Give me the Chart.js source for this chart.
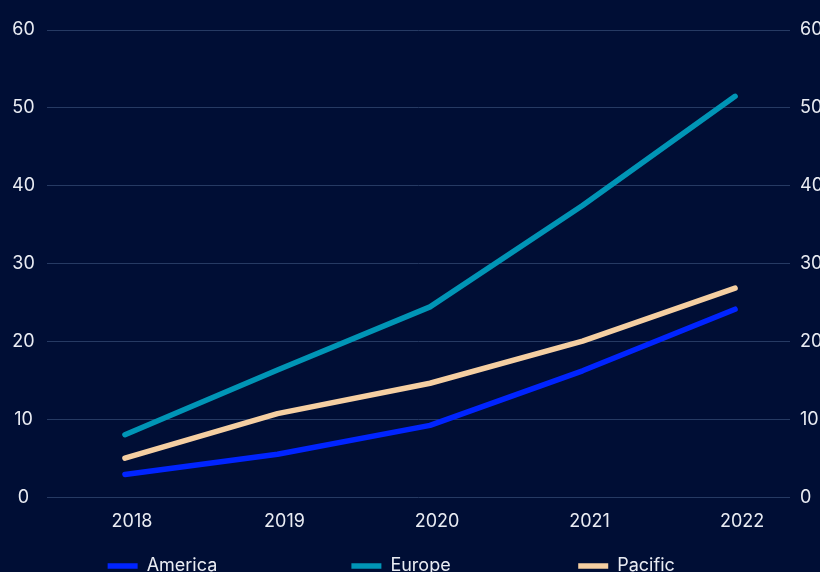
<!DOCTYPE html>
<html>
<head>
<meta charset="utf-8">
<script src="https://cdn.jsdelivr.net/npm/chart.js@4.4.1/dist/chart.umd.min.js"></script>
<style>
  html, body { margin: 0; padding: 0; background: #000e35; overflow: hidden; }
  #wrap { width: 820px; height: 585px; }
</style>
</head>
<body>
<div id="wrap"><canvas id="chart"></canvas></div>
<script>
/* global Chart */
var years = ["2018", "2019", "2020", "2021", "2022"];
var america = [3.0, 5.6, 9.3, 16.3, 24.2];
var europe = [8.1, 16.4, 24.5, 37.5, 51.5];
var pacific = [5.1, 10.8, 14.7, 20.1, 26.9];
var yTicks = [0, 10, 20, 30, 40, 50, 60];

(function () {
  var textColor = "#e9ecf3";
  var gridColor = "#263a63";
  var font = { family: "Inter", size: 18 };

  function points(values) {
    return values.map(function (v, i) { return { x: i, y: v }; });
  }

  function series(label, values, color) {
    return {
      label: label,
      data: points(values),
      borderColor: color,
      backgroundColor: color,
      borderWidth: 5.5,
      borderCapStyle: "round",
      borderJoinStyle: "round",
      pointRadius: 0,
      pointStyle: "line",
      tension: 0,
    };
  }

  // legend items are spread wide in the reference; pad each label with hair spaces
  var legendWidths = [192.5, 175.5, 94];
  function padText(ctx, text, target) {
    ctx.save();
    ctx.font = "18px Inter";
    var out = text;
    var guard = 0;
    while (ctx.measureText(out).width < target && guard < 400) {
      out += "\u200A";
      guard++;
    }
    ctx.restore();
    return out;
  }

  var ctx = document.getElementById("chart").getContext("2d");

  new Chart(ctx, {
    type: "line",
    data: {
      datasets: [
        series("America", america, "#0024ff"),
        series("Europe", europe, "#0095b6"),
        series("Pacific", pacific, "#f5cfa2"),
      ],
    },
    options: {
      responsive: true,
      maintainAspectRatio: false,
      animation: false,
      layout: { padding: { top: 30, left: 0, right: 0, bottom: 0 } },
      scales: {
        x: {
          type: "linear",
          min: -0.511,
          max: 4.36,
          grid: { display: false, drawTicks: false },
          border: { display: false },
          afterBuildTicks: function (scale) {
            scale.ticks = years.map(function (y, i) { return { value: i }; });
          },
          ticks: {
            color: textColor,
            font: font,
            padding: 13,
            labelOffset: 7,
            maxRotation: 0,
            autoSkip: false,
            callback: function (value) { return years[value]; },
          },
        },
        y: {
          position: "left",
          min: 0,
          max: 60,
          afterBuildTicks: function (scale) {
            scale.ticks = yTicks.map(function (v) { return { value: v }; });
          },
          afterFit: function (scale) { scale.width = 47; },
          grid: { color: gridColor, lineWidth: 1, drawTicks: false },
          border: { display: false },
          ticks: {
            color: textColor,
            font: font,
            padding: 12,
            crossAlign: "center",
          },
        },
        y2: {
          position: "right",
          min: 0,
          max: 60,
          afterBuildTicks: function (scale) {
            scale.ticks = yTicks.map(function (v) { return { value: v }; });
          },
          afterFit: function (scale) { scale.width = 30; },
          grid: { display: false, drawTicks: false },
          border: { display: false },
          ticks: {
            color: textColor,
            font: font,
            padding: 10,
          },
        },
      },
      plugins: {
        legend: {
          position: "bottom",
          labels: {
            color: textColor,
            font: font,
            padding: 11.5,
            usePointStyle: true,
            pointStyleWidth: 30,
            generateLabels: function (chart) {
              var items = Chart.defaults.plugins.legend.labels.generateLabels(chart);
              items.forEach(function (it, i) {
                it.text = padText(chart.ctx, it.text, legendWidths[i]);
              });
              return items;
            },
          },
        },
        tooltip: { enabled: false },
      },
    },
  });
})();
</script>
</body>
</html>
